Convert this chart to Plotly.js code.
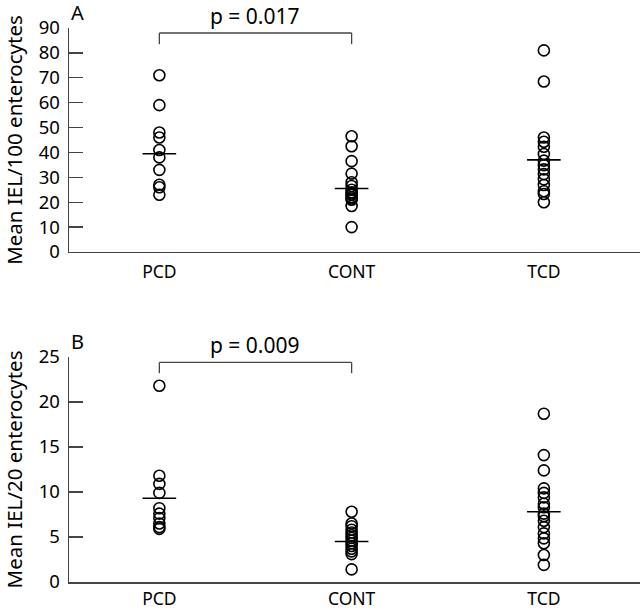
<!DOCTYPE html>
<html>
<head>
<meta charset="utf-8">
<script src="https://cdn.plot.ly/plotly-3.0.1.min.js"></script>
<style>html,body{margin:0;padding:0;background:#fff;}</style>
</head>
<body>
<div id="chart" style="width:640px;height:610px;"></div>
<script>
// Categories
var categories = ['PCD', 'CONT', 'TCD'];

// Panel A: Mean IEL/100 enterocytes
var pcdA  = [71, 59, 48, 46, 41, 38, 33, 27, 26, 23];
var contA = [46.5, 42.5, 36.5, 31.5, 28, 26.5, 25, 24, 23.5, 23, 22, 21.5, 21, 18.5, 10];
var tcdA  = [81, 68.5, 46, 44.3, 42.3, 39.4, 36.7, 34.9, 33.2, 31.3, 29.2, 26.9, 24.4, 23.3, 20];
var meansA = [39.5, 25.5, 37];

// Panel B: Mean IEL/20 enterocytes
var pcdB  = [21.8, 11.8, 10.9, 9.9, 8.2, 7.6, 7.1, 6.5, 6.1, 5.9];
var contB = [7.8, 6.5, 6.2, 5.8, 5.5, 5.2, 4.9, 4.6, 4.3, 4.0, 3.7, 3.4, 3.1, 1.4];
var tcdB  = [18.7, 14.1, 12.4, 10.4, 9.9, 9.4, 8.7, 8.3, 7.6, 7.3, 6.8, 6.1, 5.4, 4.85, 4.3, 3.0, 1.9];
var meansB = [9.3, 4.5, 7.8];

var pLabels = ['p = 0.017', 'p = 0.009'];
var bracketA = [83.5, 88.0];
var bracketB = [23.2, 24.4];

var FONT = 'Noto Sans, DejaVu Sans, sans-serif';
var AXC = '#444';

function rep(cat, arr) { return arr.map(function () { return cat; }); }

function pts(cat, vals, xa, ya) {
  return {
    type: 'scatter', mode: 'markers', x: rep(cat, vals), y: vals,
    xaxis: xa, yaxis: ya, showlegend: false, hoverinfo: 'y',
    marker: {symbol: 'circle-open', size: 11, color: '#000', line: {width: 1.6, color: '#000'}}
  };
}
function means(vals, xa, ya) {
  return {
    type: 'scatter', mode: 'markers', x: categories, y: vals,
    xaxis: xa, yaxis: ya, showlegend: false, hoverinfo: 'y',
    marker: {symbol: 'line-ew-open', size: 24, color: '#000', line: {width: 1.6, color: '#000'}}
  };
}

var data = [
  pts(categories[0], pcdA, 'x', 'y'),
  pts(categories[1], contA, 'x', 'y'),
  pts(categories[2], tcdA, 'x', 'y'),
  means(meansA, 'x', 'y'),
  pts(categories[0], pcdB, 'x2', 'y2'),
  pts(categories[1], contB, 'x2', 'y2'),
  pts(categories[2], tcdB, 'x2', 'y2'),
  means(meansB, 'x2', 'y2')
];

function xax(anchor, standoff) {
  return {
    anchor: anchor, domain: [0, 1], type: 'category',
    categoryorder: 'array', categoryarray: categories,
    range: [-0.47, 2.5], showline: true, linecolor: AXC, linewidth: 1.5,
    showgrid: false, zeroline: false, ticks: '', ticklabelstandoff: standoff,
    tickfont: {family: FONT, size: 17.5, color: '#000'}
  };
}
function yax(anchor, domain, range, dtick, title) {
  return {
    anchor: anchor, domain: domain, range: range, dtick: dtick,
    showline: true, linecolor: AXC, linewidth: 1.5,
    showgrid: false, zeroline: false,
    ticks: 'inside', ticklen: 14, tickwidth: 1.3, tickcolor: AXC,
    ticklabelstandoff: 4,
    tickfont: {family: FONT, size: 18.5, color: '#000'},
    title: {text: title, font: {family: FONT, size: 20.5, color: '#000'}, standoff: 12}
  };
}

function bracket(xa, ya, lv) {
  var s = {type: 'line', xref: xa, yref: ya, line: {color: AXC, width: 1.3}};
  return [
    Object.assign({}, s, {x0: categories[0], x1: categories[0], y0: lv[0], y1: lv[1]}),
    Object.assign({}, s, {x0: categories[0], x1: categories[1], y0: lv[1], y1: lv[1]}),
    Object.assign({}, s, {x0: categories[1], x1: categories[1], y0: lv[0], y1: lv[1]})
  ];
}

var layout = {
  width: 640, height: 610,
  margin: {l: 69, r: 0, t: 0, b: 0},
  paper_bgcolor: '#fff', plot_bgcolor: '#fff',
  font: {family: FONT, color: '#000'},
  showlegend: false,
  xaxis: xax('y', 4),
  yaxis: yax('x', [0.5869, 0.9541], [0, 90], 10, 'Mean IEL/100 enterocytes'),
  xaxis2: xax('y2', 0),
  yaxis2: yax('x2', [0.0459, 0.4148], [0, 25], 5, 'Mean IEL/20 enterocytes'),
  shapes: bracket('x', 'y', bracketA).concat(bracket('x2', 'y2', bracketB)),
  annotations: [
    {xref: 'x', yref: 'paper', x: 0.5, y: 0.973, text: pLabels[0], showarrow: false,
     font: {family: FONT, size: 21, color: '#000'}, xanchor: 'center', yanchor: 'middle'},
    {xref: 'x2', yref: 'paper', x: 0.5, y: 0.434, text: pLabels[1], showarrow: false,
     font: {family: FONT, size: 21, color: '#000'}, xanchor: 'center', yanchor: 'middle'},
    {xref: 'paper', yref: 'paper', x: 0.0145, y: 0.980, text: 'A', showarrow: false,
     font: {family: FONT, size: 20, color: '#000'}, xanchor: 'center', yanchor: 'middle'},
    {xref: 'paper', yref: 'paper', x: 0.0145, y: 0.440, text: 'B', showarrow: false,
     font: {family: FONT, size: 20, color: '#000'}, xanchor: 'center', yanchor: 'middle'}
  ]
};

Plotly.newPlot('chart', data, layout, {displayModeBar: false, staticPlot: true});
</script>
</body>
</html>
